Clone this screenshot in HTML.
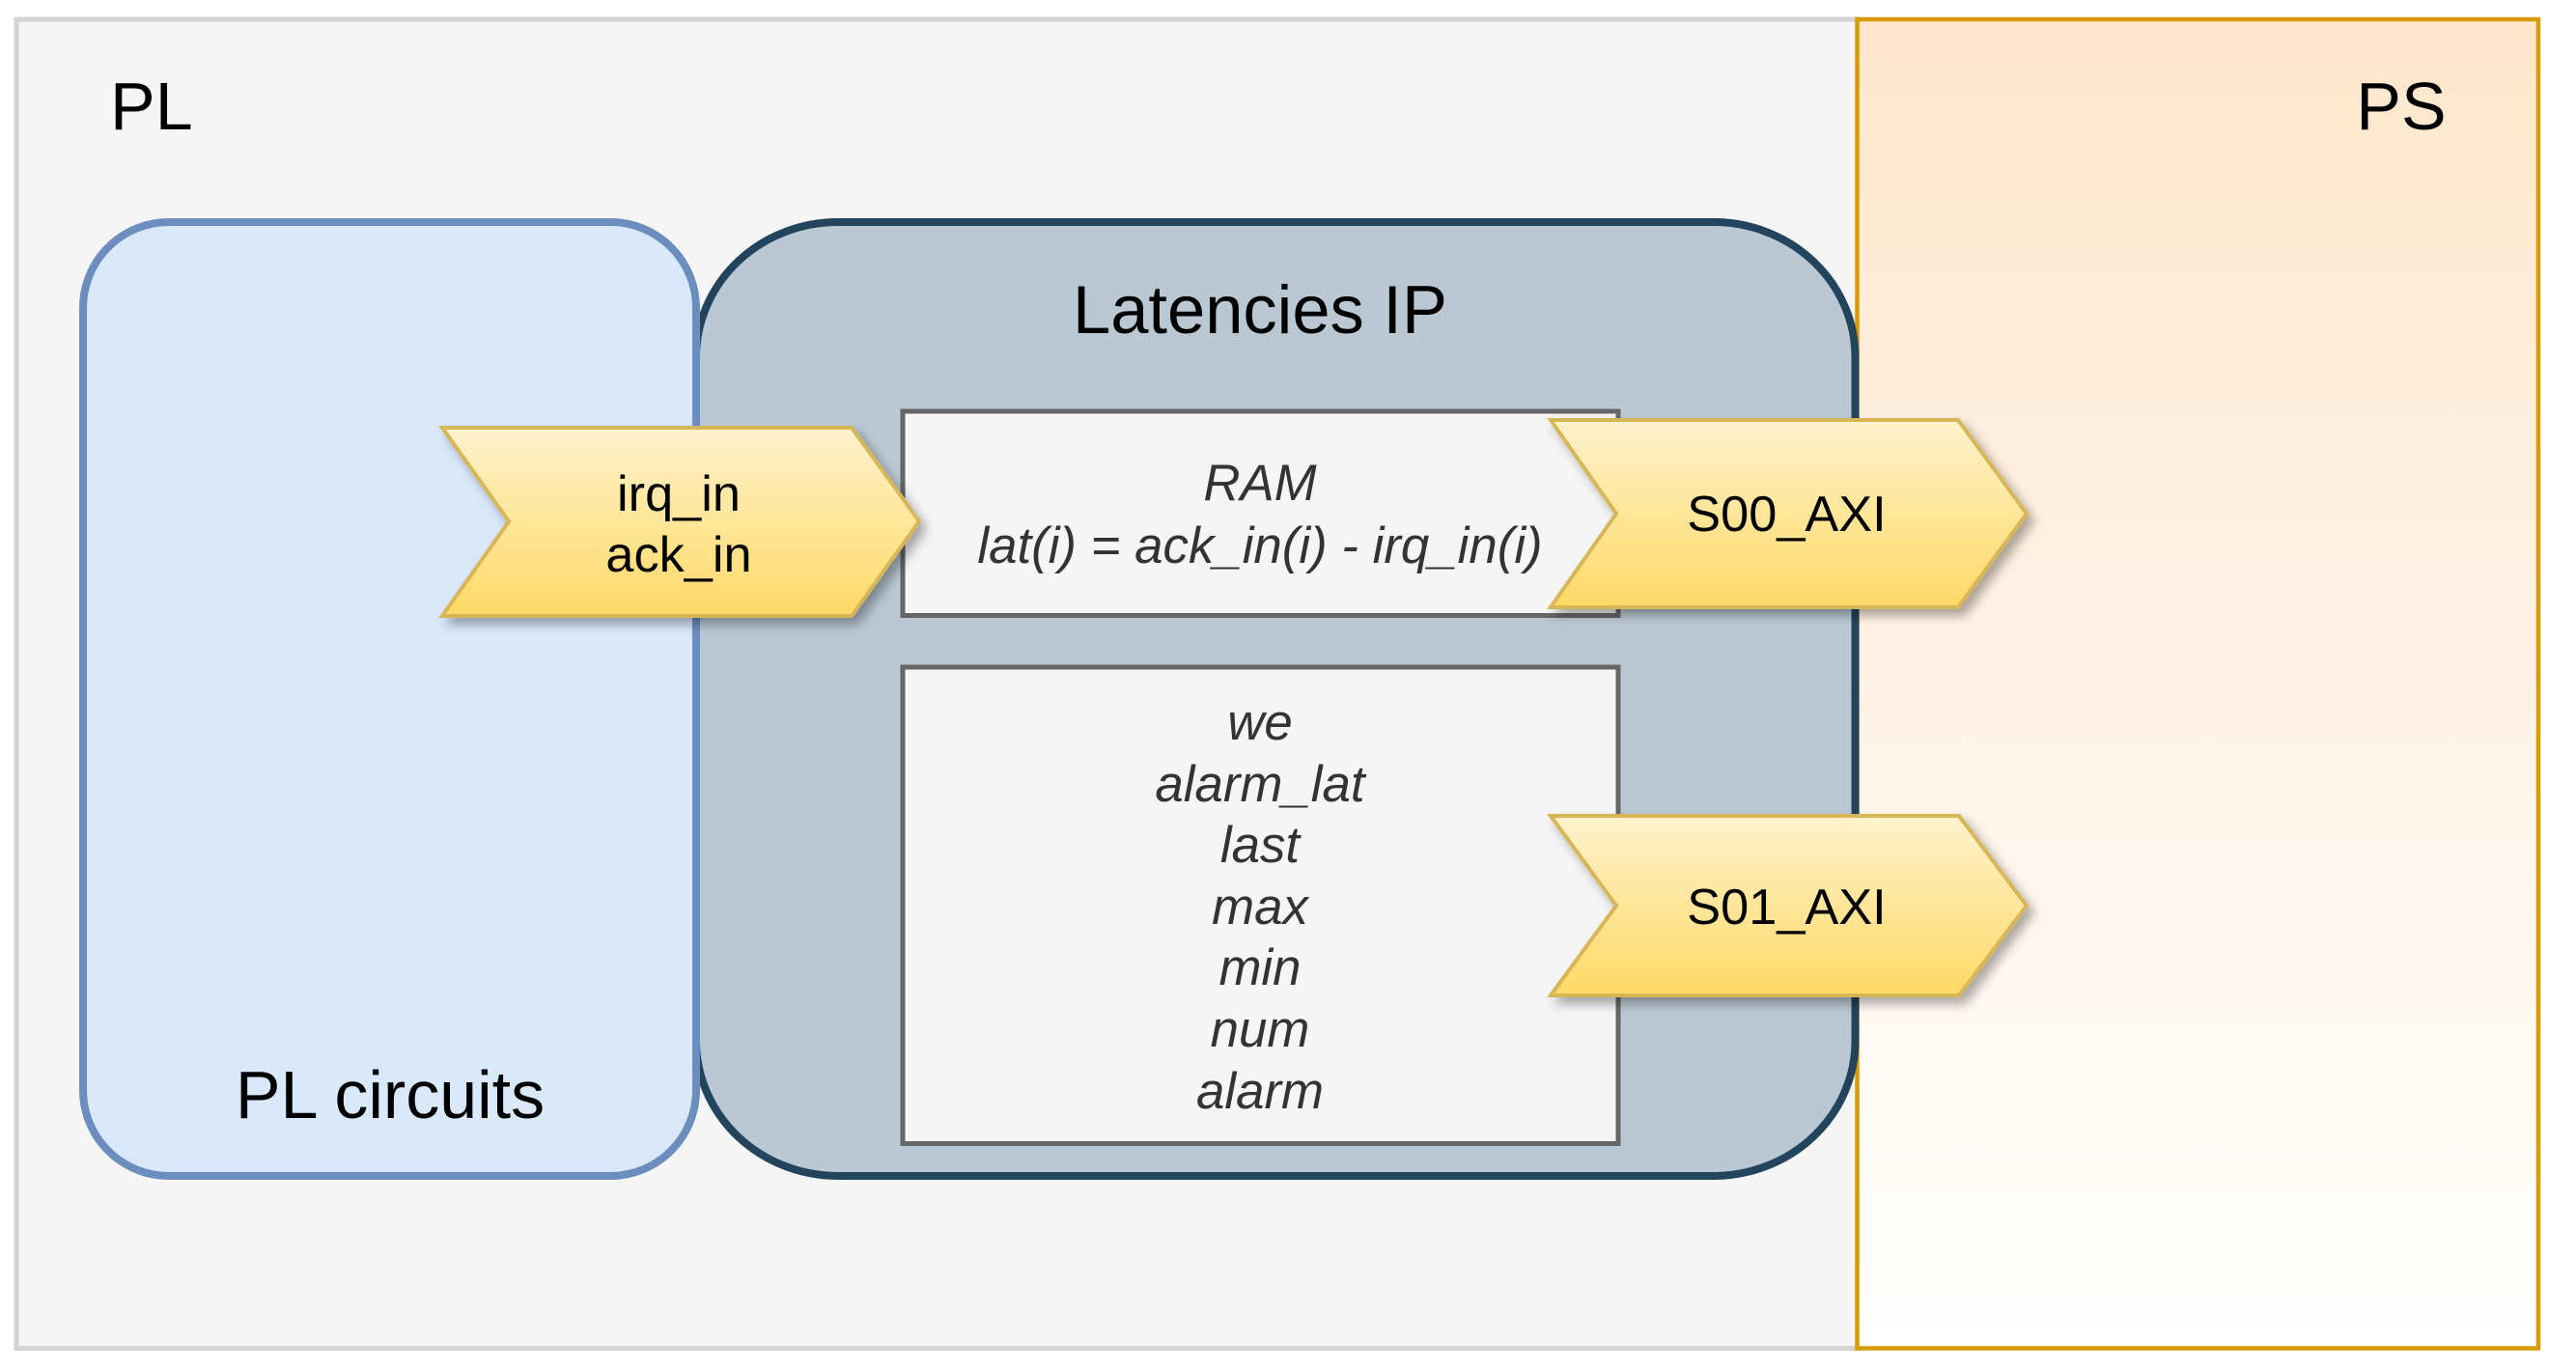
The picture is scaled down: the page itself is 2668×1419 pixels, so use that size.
<!DOCTYPE html>
<html lang="en">
<head>
<meta charset="utf-8">
<title>Latencies IP diagram</title>
<style>
html,body{margin:0;padding:0;background:#fff;width:2668px;height:1419px;overflow:hidden}
svg{display:block}
text{font-family:"Liberation Sans",Arial,sans-serif}
</style>
</head>
<body>
<svg xmlns="http://www.w3.org/2000/svg" width="2668" height="1419" viewBox="0 0 2668 1419">
<defs>
<linearGradient id="ps" x1="0" y1="0" x2="0" y2="1"><stop offset="0" stop-color="#ffe6cc"/><stop offset="1" stop-color="#ffffff"/></linearGradient>
<linearGradient id="y" x1="0" y1="0" x2="0" y2="1"><stop offset="0" stop-color="#fff2cc"/><stop offset="1" stop-color="#ffd966"/></linearGradient>
<filter id="sh" x="-10%" y="-20%" width="120%" height="150%"><feDropShadow dx="6" dy="7" stdDeviation="5.5" flood-color="#000" flood-opacity="0.33"/></filter>
</defs>

<rect x="17" y="20" width="1910" height="1376.5" fill="#f5f5f5" stroke="#d3d3d3" stroke-width="5"/>
<rect x="1923.5" y="20" width="705.5" height="1376.5" fill="url(#ps)" stroke="#d79b00" stroke-width="4.5"/>

<rect x="721" y="230" width="1200.5" height="988" rx="147" ry="140" fill="#bac8d3" stroke="#23445d" stroke-width="8"/>
<rect x="86" y="230" width="635" height="988" rx="89" ry="89" fill="#dae8fc" stroke="#6c8ebf" stroke-width="8"/>

<rect x="935" y="426" width="741" height="211.5" fill="#f5f5f5" stroke="#666666" stroke-width="5"/>
<rect x="935" y="691" width="741" height="493.5" fill="#f5f5f5" stroke="#666666" stroke-width="5"/>

<polygon points="458,443 882,443 952,540 882,638 458,638 527,540" fill="url(#y)" stroke="#d6b656" stroke-width="4" filter="url(#sh)"/>
<polygon points="1606,435 2028,435 2099,532 2028,629 1606,629 1674,532" fill="url(#y)" stroke="#d6b656" stroke-width="4" filter="url(#sh)"/>
<polygon points="1606,845 2029,845 2099,938 2029,1031 1606,1031 1674,938" fill="url(#y)" stroke="#d6b656" stroke-width="4" filter="url(#sh)"/>

<g fill="#000" font-size="70">
<text x="114" y="134">PL</text>
<text x="2487" y="134" text-anchor="middle">PS</text>
<text x="1305" y="345" text-anchor="middle" font-size="70.5">Latencies IP</text>
<text x="404" y="1158" text-anchor="middle" font-size="70">PL circuits</text>
</g>
<g fill="#000" font-size="52.3" text-anchor="middle">
<text x="703" y="529">irq_in</text>
<text x="703" y="592">ack_in</text>
<text x="1850.5" y="550">S00_AXI</text>
<text x="1850.5" y="957">S01_AXI</text>
</g>
<g fill="#333333" font-size="52.8" font-style="italic" text-anchor="middle">
<text x="1305" y="518">RAM</text>
<text x="1305" y="583">lat(i) = ack_in(i) - irq_in(i)</text>
<text x="1305" y="766">we</text>
<text x="1305" y="830">alarm_lat</text>
<text x="1305" y="893">last</text>
<text x="1305" y="957">max</text>
<text x="1305" y="1020">min</text>
<text x="1305" y="1084">num</text>
<text x="1305" y="1148">alarm</text>
</g>
</svg>
</body>
</html>
